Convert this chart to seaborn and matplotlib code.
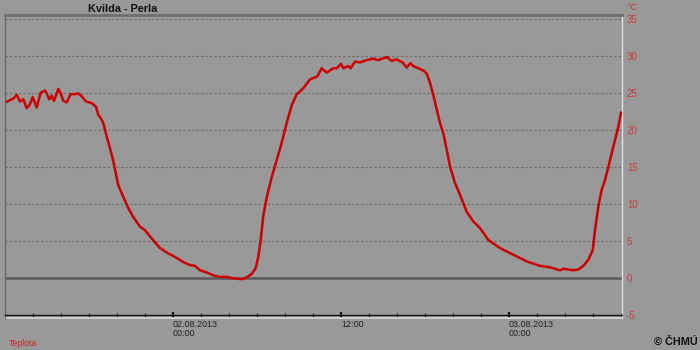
import matplotlib
matplotlib.use("Agg")
import matplotlib.pyplot as plt
import seaborn as sns
import pandas as pd
from matplotlib.ticker import MultipleLocator, FixedLocator

# hours since 01.08.2013 12:00
hours = [0.16, 0.36, 0.59, 0.84, 1.07, 1.31, 1.55, 1.74, 1.98, 2.26, 2.55, 2.86, 2.98,
         3.16, 3.34, 3.50, 3.81, 3.98, 4.16, 4.41, 4.69, 5.00, 5.24, 5.48, 5.79, 6.19,
         6.50, 6.66, 6.79, 7.02, 7.26, 7.50, 7.74, 7.86, 8.09, 8.45, 8.81, 9.16, 9.64,
         10.00, 10.48, 11.07, 11.55, 12.14, 12.74, 13.21, 13.57, 13.93, 14.41, 14.88,
         15.36, 15.84, 16.31, 16.91, 17.26, 17.62, 17.91, 18.09, 18.26, 18.45, 18.69,
         19.05, 19.41, 19.76, 20.12, 20.48, 20.84, 21.31, 21.79, 22.31, 22.62, 22.98,
         23.45, 23.69, 24.00, 24.16, 24.52, 24.69, 25.00, 25.36, 25.84, 26.31, 26.66,
         26.93, 27.29, 27.62, 27.98, 28.39, 28.69, 28.96, 29.16, 29.52, 29.88, 30.12,
         30.36, 30.59, 30.84, 31.07, 31.31, 31.55, 31.79, 32.14, 32.50, 32.98, 33.45,
         33.93, 34.52, 35.36, 36.31, 37.26, 38.21, 38.93, 39.64, 39.88, 40.24, 40.59,
         40.95, 41.31, 41.66, 41.98, 42.14, 42.38, 42.62, 42.86, 43.10, 43.45, 43.81,
         44.00]
temps = [23.8, 24.0, 24.2, 24.7, 23.8, 24.1, 22.9, 23.3, 24.4, 23.0, 25.0, 25.3, 24.9,
         24.1, 24.6, 23.9, 25.5, 24.9, 23.9, 23.7, 24.8, 24.8, 24.9, 24.5, 23.8, 23.6,
         23.1, 22.0, 21.7, 20.9, 19.1, 17.5, 15.7, 14.6, 12.5, 10.9, 9.4, 8.2, 6.9,
         6.4, 5.3, 4.0, 3.4, 2.8, 2.1, 1.7, 1.6, 1.0, 0.7, 0.3,
         0.1, 0.1, -0.1, -0.2, 0.05, 0.5, 1.3, 2.8, 5.0, 8.4, 10.8,
         13.6, 15.9, 18.2, 20.9, 23.3, 24.8, 25.6, 26.8, 27.2, 28.3, 27.7,
         28.3, 28.3, 28.9, 28.3, 28.6, 28.3, 29.2, 29.1, 29.4, 29.6, 29.4,
         29.6, 29.8, 29.3, 29.5, 29.1, 28.4, 29.0, 28.6, 28.3, 28.0, 27.6,
         26.3, 24.7, 22.7, 20.9, 19.5, 17.3, 15.0, 12.8, 11.2, 8.9, 7.6,
         6.7, 5.1, 4.0, 3.1, 2.2, 1.6, 1.4, 1.0, 1.2, 1.1, 1.0,
         1.1, 1.6, 2.4, 3.7, 6.4, 9.6, 11.9, 13.2, 15.0, 17.7, 20.4,
         22.3]

major_ticks = [12, 24, 36]
major_labels = ["02.08.2013\n00:00", "12:00", "03.08.2013\n00:00"]
y_ticks = [-5, 0, 5, 10, 15, 20, 25, 30, 35]

df = pd.DataFrame({"h": hours, "t": temps})

plt.rcParams["font.family"] = ["Liberation Sans", "DejaVu Sans"]

bg = "#999999"
red = "#cc0000"
lab_red = "#c43a3a"

fig = plt.figure(figsize=(7, 3.5), dpi=100, facecolor=bg)
ax = fig.add_axes([5 / 700, 1 - 318 / 350, 617 / 700, 303 / 350])
ax.set_facecolor(bg)

ax.set_xlim(0, 617 / 14)
ax.set_ylim(-5.45, 35.5)

for yv in y_ticks[2:]:
    ax.axhline(yv, color="#6a6a6a", lw=0.8, ls=(0, (2, 2)), zorder=1)
ax.axhline(0, color="#5a5a5a", lw=1.8, zorder=1)

sns.lineplot(data=df, x="h", y="t", ax=ax, color=red, lw=1.8, zorder=3)

# spines
ax.spines["left"].set_color("#666666")
ax.spines["left"].set_linewidth(1.0)
ax.spines["top"].set_color("#6e6e6e")
ax.spines["top"].set_linewidth(2.0)
ax.spines["right"].set_color("#e0e0e0")
ax.spines["right"].set_linewidth(1.0)
ax.spines["bottom"].set_position(("data", -5))
ax.spines["bottom"].set_color("#111111")
ax.spines["bottom"].set_linewidth(1.0)
ax.plot([0, 1], [0, 0], transform=ax.transAxes, color="#d8d8d8", lw=1.2, clip_on=False)

# x ticks
ax.xaxis.set_major_locator(FixedLocator(major_ticks))
ax.set_xticklabels(major_labels)
ax.xaxis.set_minor_locator(MultipleLocator(2))
ax.tick_params(axis="x", which="major", direction="inout", length=4.5, width=1.6,
               color="#111111", labelsize=6.5, labelcolor="#222222", pad=1.5)
ax.tick_params(axis="x", which="minor", direction="inout", length=3.5, width=0.8,
               color="#111111")
for lbl in ax.get_xticklabels():
    lbl.set_horizontalalignment("left")
    lbl.set_linespacing(1.0)

# y ticks on right
ax.yaxis.tick_right()
ax.set_yticks(y_ticks)
ax.set_yticklabels([str(v) for v in y_ticks])
ax.tick_params(axis="y", length=0, pad=3.5, labelsize=7, labelcolor=lab_red)
ax.set_xlabel("")
ax.set_ylabel("")

fig.text(628 / 700, 1 - 7 / 350, "°C", color=lab_red, fontsize=6.5, ha="left", va="center")
fig.text(123 / 700, 1 - 8.5 / 350, "Kvilda - Perla", color="#111111", fontsize=7.8,
         fontweight="bold", ha="center", va="center")
fig.text(9 / 700, 1 - 343 / 350, "Teplota", color="#cc2222", fontsize=6.3,
         ha="left", va="center")
fig.text(698 / 700, 1 - 342 / 350, "© ČHMÚ", color="#111111", fontsize=7.8,
         fontweight="bold", ha="right", va="center")

fig.savefig("out.png", dpi=100, facecolor=bg)
